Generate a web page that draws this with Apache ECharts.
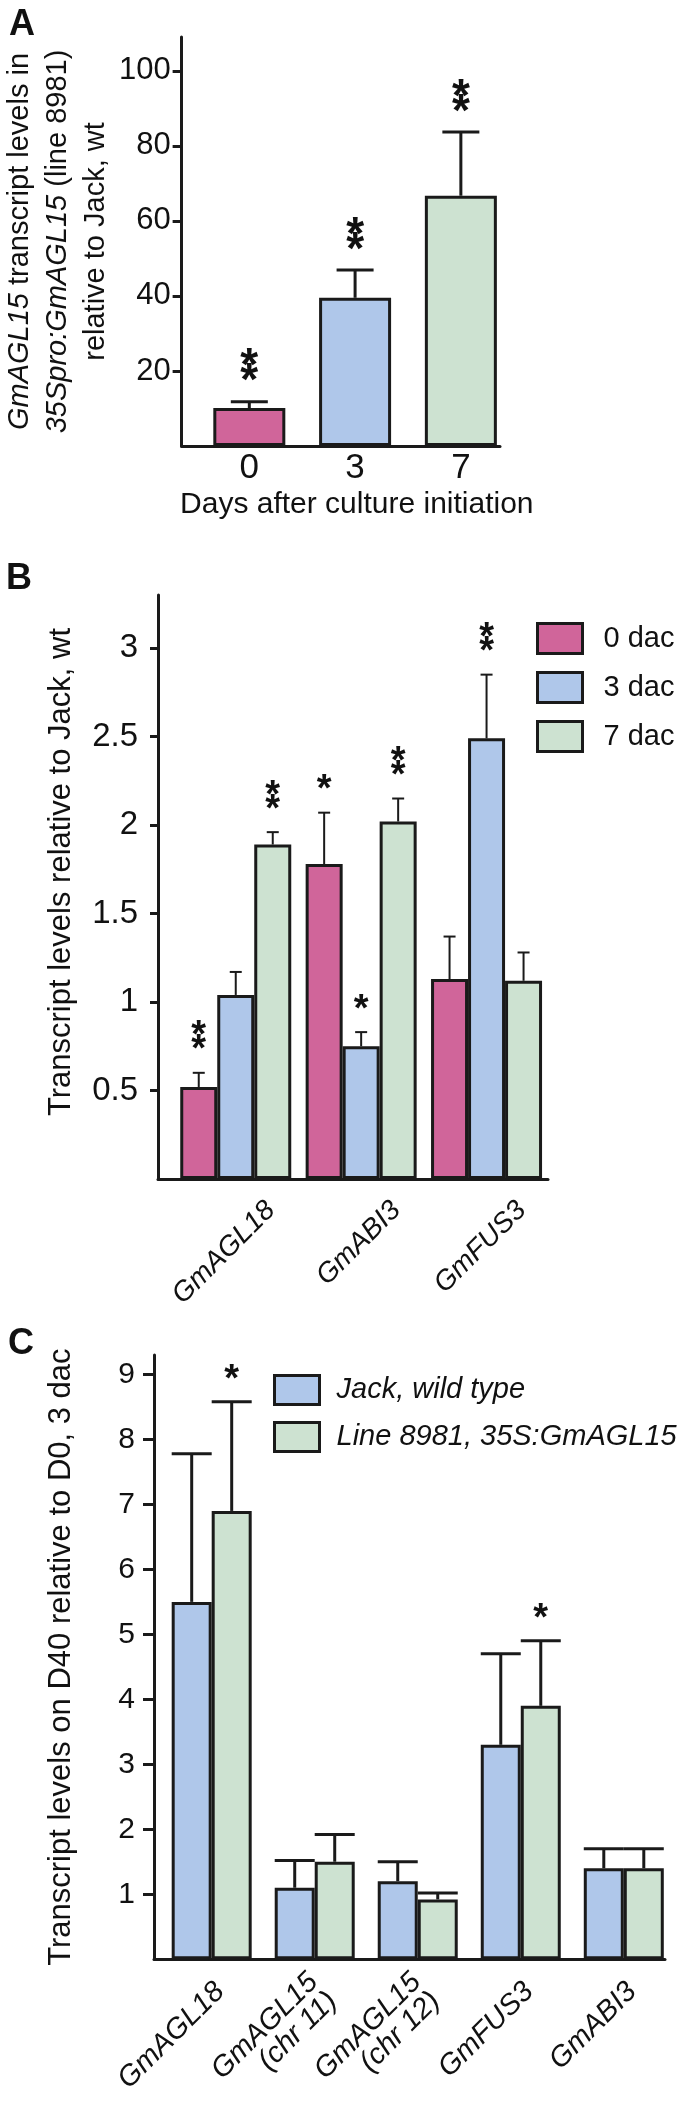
<!DOCTYPE html>
<html><head><meta charset="utf-8">
<script src="https://cdn.jsdelivr.net/npm/echarts@6/dist/echarts.min.js"></script>
<style>html,body{margin:0;padding:0;background:#fff;}#c{width:697px;height:2106px;}</style>
</head><body><div id="c"></div>
<script>
// ---------- Panel A data ----------
const daysA = ['0', '3', '7'];
const meanA = [10.1, 39.5, 66.7];
const errTopA = [11.8, 46.9, 83.7];
const sigA = ['**', '**', '**'];
const ticksA = [20, 40, 60, 80, 100];
// ---------- Panel B data ----------
const genesB = ['GmAGL18', 'GmABI3', 'GmFUS3'];
const namesB = ['0 dac', '3 dac', '7 dac'];
const meanB0 = [0.52, 1.78, 1.13];
const errB0 = [0.60, 2.07, 1.37];
const sigB0 = ['**', '*', ''];
const meanB3 = [1.04, 0.75, 2.49];
const errB3 = [1.17, 0.83, 2.85];
const sigB3 = ['', '*', '**'];
const meanB7 = [1.89, 2.02, 1.12];
const errB7 = [1.96, 2.15, 1.28];
const sigB7 = ['**', '**', ''];
const ticksB = [0.5, 1, 1.5, 2, 2.5, 3];
// ---------- Panel C data ----------
const genesC = ['GmAGL18', 'GmAGL15\n(chr 11)', 'GmAGL15\n(chr 12)', 'GmFUS3', 'GmABI3'];
const namesC = ['Jack, wild type', 'Line 8981, 35S:GmAGL15'];
const meanJack = [5.5, 1.1, 1.2, 3.3, 1.4];
const errJack = [7.78, 1.52, 1.5, 4.7, 1.7];
const sigJack = ['', '', '', '', ''];
const meanLine = [6.9, 1.5, 0.92, 3.9, 1.4];
const errLine = [8.58, 1.92, 1.02, 4.9, 1.7];
const sigLine = ['*', '', '', '*', ''];
const ticksC = [1, 2, 3, 4, 5, 6, 7, 8, 9];

// ---------- styles ----------
const FF = '"Liberation Sans", Arial, Helvetica, sans-serif';
const PINK = '#D0659A', BLUE = '#AFC7EA', GREEN = '#CDE2D1', INK = '#1a1a1a', TXT = '#111';

function pts(arr) { return arr.map((v, i) => [i, v]); }
function errPts(m, e) { return m.map((v, i) => [i, v, e[i]]); }

function makeErr(offsetPx, capW, lw, sigs, fs, gap, pitch) {
  return function (params, api) {
    const i = params.dataIndex;
    const b = api.coord([api.value(0), api.value(1)]);
    const t = api.coord([api.value(0), api.value(2)]);
    const cx = b[0] + offsetPx;
    const children = [
      { type: 'line', shape: { x1: cx, y1: b[1], x2: cx, y2: t[1] }, style: { stroke: INK, lineWidth: lw } },
      { type: 'line', shape: { x1: cx - capW / 2, y1: t[1], x2: cx + capW / 2, y2: t[1] }, style: { stroke: INK, lineWidth: lw } }
    ];
    const n = (sigs[i] || '').length;
    for (let k = 0; k < n; k++) {
      children.push({ type: 'text', style: { text: '*', x: cx, y: t[1] - gap - k * pitch, align: 'center', verticalAlign: 'middle',
        fontSize: fs, fontWeight: 'bold', fontFamily: FF, fill: TXT } });
    }
    return { type: 'group', children };
  };
}

function errSeries(name, xi, m, e, off, cap, lw, sigs, fs, gap, pitch) {
  return { type: 'custom', name, xAxisIndex: xi, yAxisIndex: xi, clip: false, z: 5,
    encode: { x: 0, y: [1, 2] }, data: errPts(m, e), renderItem: makeErr(off, cap, lw, sigs, fs, gap, pitch) };
}

const axLine = { show: true, onZero: false, lineStyle: { color: INK, width: 3 } };

const option = {
  animation: false,
  backgroundColor: '#fff',
  textStyle: { fontFamily: FF, color: TXT },
  title: [
    { text: 'A', left: 4, top: 2, textStyle: { fontSize: 36, fontWeight: 'bold', fontFamily: FF, color: TXT } },
    { text: 'B', left: 1, top: 556, textStyle: { fontSize: 36, fontWeight: 'bold', fontFamily: FF, color: TXT } },
    { text: 'C', left: 3, top: 1321, textStyle: { fontSize: 36, fontWeight: 'bold', fontFamily: FF, color: TXT } }
  ],
  legend: [
    { data: namesB, orient: 'vertical', left: 531, top: 617, itemWidth: 45, itemHeight: 30, itemGap: 16, icon: 'rect',
      selectedMode: false, itemStyle: { borderColor: INK, borderWidth: 3 },
      textStyle: { fontSize: 29, color: TXT, fontFamily: FF, padding: [0, 0, 0, 16] } },
    { data: namesC, orient: 'vertical', left: 268, top: 1369, itemWidth: 45, itemHeight: 29, itemGap: 15, icon: 'rect',
      selectedMode: false, itemStyle: { borderColor: INK, borderWidth: 3 },
      textStyle: { fontSize: 29, color: TXT, fontFamily: FF, fontStyle: 'italic', padding: [0, 0, 0, 12] } }
  ],
  grid: [
    { left: 167, top: 37, width: 333, height: 409 },
    { left: 158, top: 595, width: 390, height: 584 },
    { left: 154, top: 1355, width: 511, height: 623 }
  ],
  xAxis: [
    { gridIndex: 0, type: 'value', min: -0.64, max: 2.37, axisLine: axLine, axisTick: { show: false }, splitLine: { show: false },
      axisLabel: { customValues: [0, 1, 2], formatter: v => daysA[Math.round(v)], fontSize: 35, margin: 5, color: TXT, fontFamily: FF },
      name: 'Days after culture initiation', nameLocation: 'middle', nameGap: 44,
      nameTextStyle: { fontSize: 30, color: TXT, fontFamily: FF, padding: [0, 0, 0, 32], verticalAlign: 'top' } },
    { gridIndex: 1, type: 'value', min: -0.62, max: 2.49, axisLine: axLine, axisTick: { show: false }, splitLine: { show: false },
      axisLabel: { customValues: [0.28, 1.28, 2.28], formatter: v => genesB[Math.round(v - 0.28)], rotate: 45, fontSize: 28,
        fontStyle: 'italic', margin: 27, color: TXT, fontFamily: FF } },
    { gridIndex: 2, type: 'value', min: -0.56, max: 4.4, axisLine: axLine, axisTick: { show: false }, splitLine: { show: false },
      axisLabel: { customValues: [0.08, 1.08, 2.08, 3.08, 4.08], formatter: v => genesC[Math.round(v - 0.08)], rotate: 45, fontSize: 29,
        lineHeight: 27, fontStyle: 'italic', margin: 28, color: TXT, fontFamily: FF } }
  ],
  yAxis: [
    { gridIndex: 0, type: 'value', min: 0, max: 109, axisLine: axLine, splitLine: { show: false },
      axisTick: { show: true, length: 9, customValues: ticksA, lineStyle: { color: INK, width: 3 } },
      axisLabel: { customValues: ticksA, fontSize: 31, margin: 11, color: TXT, fontFamily: FF },
      name: '{i|GmAGL15} transcript levels in\n{i|35Spro:GmAGL15} (line 8981)\nrelative to Jack, wt',
      nameLocation: 'middle', nameRotate: 90, nameGap: 64,
      nameTextStyle: { fontSize: 29, lineHeight: 38, color: TXT, fontFamily: FF,
        rich: { i: { fontStyle: 'italic', fontSize: 29, lineHeight: 38, color: TXT, fontFamily: FF } } } },
    { gridIndex: 1, type: 'value', min: 0, max: 3.3, axisLine: axLine, splitLine: { show: false },
      axisTick: { show: true, length: 8, customValues: ticksB, lineStyle: { color: INK, width: 3 } },
      axisLabel: { customValues: ticksB, fontSize: 33, margin: 20, color: TXT, fontFamily: FF },
      name: 'Transcript levels relative to Jack, wt', nameLocation: 'middle', nameRotate: 90, nameGap: 81,
      nameTextStyle: { fontSize: 31, color: TXT, fontFamily: FF, padding: [0, 0, 0, 30] } },
    { gridIndex: 2, type: 'value', min: 0, max: 9.3, axisLine: axLine, splitLine: { show: false },
      axisTick: { show: true, length: 11, customValues: ticksC, lineStyle: { color: INK, width: 3 } },
      axisLabel: { customValues: ticksC, fontSize: 30, margin: 19, color: TXT, fontFamily: FF },
      name: 'Transcript levels on D40 relative to D0, 3 dac', nameLocation: 'middle', nameRotate: 90, nameGap: 77,
      nameTextStyle: { fontSize: 31, color: TXT, fontFamily: FF } }
  ],
  series: [
    { type: 'bar', name: 'A', xAxisIndex: 0, yAxisIndex: 0, data: pts(meanA), barWidth: 72,
      itemStyle: { color: p => [PINK, BLUE, GREEN][p.dataIndex], borderColor: INK, borderWidth: 3 } },
    errSeries('errA', 0, meanA, errTopA, 0, 37, 3, sigA, 46, 19, 15),

    { type: 'bar', name: namesB[0], xAxisIndex: 1, yAxisIndex: 1, data: pts(meanB0), barWidth: 37, barGap: '0%',
      itemStyle: { color: PINK, borderColor: INK, borderWidth: 3 } },
    { type: 'bar', name: namesB[1], xAxisIndex: 1, yAxisIndex: 1, data: pts(meanB3), barWidth: 37, barGap: '0%',
      itemStyle: { color: BLUE, borderColor: INK, borderWidth: 3 } },
    { type: 'bar', name: namesB[2], xAxisIndex: 1, yAxisIndex: 1, data: pts(meanB7), barWidth: 37, barGap: '0%',
      itemStyle: { color: GREEN, borderColor: INK, borderWidth: 3 } },
    errSeries('errB0', 1, meanB0, errB0, -37, 12, 2, sigB0, 38, 22, 14),
    errSeries('errB3', 1, meanB3, errB3, 0, 12, 2, sigB3, 38, 22, 14),
    errSeries('errB7', 1, meanB7, errB7, 37, 12, 2, sigB7, 38, 22, 14),

    { type: 'bar', name: namesC[0], xAxisIndex: 2, yAxisIndex: 2, data: pts(meanJack), barWidth: 40, barGap: '0%',
      itemStyle: { color: BLUE, borderColor: INK, borderWidth: 3 } },
    { type: 'bar', name: namesC[1], xAxisIndex: 2, yAxisIndex: 2, data: pts(meanLine), barWidth: 40, barGap: '0%',
      itemStyle: { color: GREEN, borderColor: INK, borderWidth: 3 } },
    errSeries('errJack', 2, meanJack, errJack, -20, 40, 3, sigJack, 38, 21, 14),
    errSeries('errLine', 2, meanLine, errLine, 20, 40, 3, sigLine, 38, 21, 14)
  ]
};
const chart = echarts.init(document.getElementById('c'), null, { renderer: 'canvas', width: 697, height: 2106 });
chart.setOption(option);
</script></body></html>
